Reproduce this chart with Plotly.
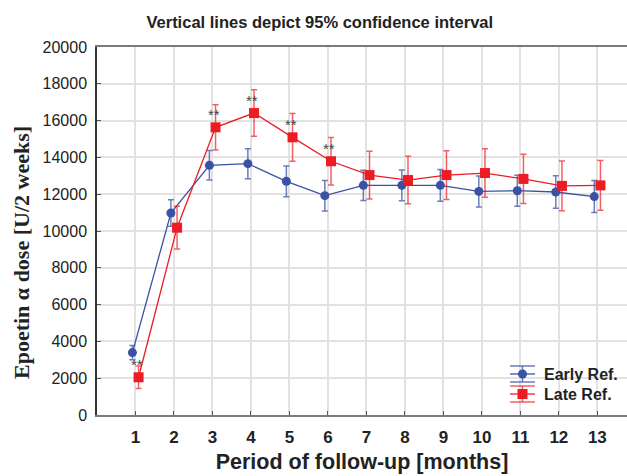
import plotly.graph_objects as go

months = list(range(1, 14))
early_mean = [3390, 10980, 13570, 13660, 12700, 11920, 12480, 12480, 12480, 12150, 12190, 12120, 11870]
early_ci = [390, 725, 800, 815, 835, 830, 825, 830, 860, 840, 840, 880, 870]
late_mean = [2050, 10180, 15635, 16410, 15090, 13790, 13040, 12770, 13040, 13150, 12830, 12450, 12480]
late_ci = [610, 1160, 1230, 1265, 1295, 1285, 1295, 1295, 1325, 1320, 1335, 1350, 1350]
sig_months = [1, 3, 4, 5, 6]
x_ticks = [str(m) for m in months]
y_ticks = list(range(0, 20001, 2000))
y_tick_labels = [str(v) for v in y_ticks]
series_names = ["Early Ref.", "Late Ref."]

OFF = 0.08
BLUE = "#3a52a3"
RED = "#ec1c24"
BLUE_EB = "rgba(58,82,163,0.75)"
RED_EB = "rgba(236,28,36,0.7)"

# plot area geometry (pixels) for the hand-drawn legend
L, T, W, H = 97, 47, 530, 368


def px(x):
    return (x - L) / W


def py(y):
    return (T + H - y) / H


fig = go.Figure()
fig.add_trace(go.Scatter(
    x=[m - OFF for m in months], y=early_mean, name=series_names[0],
    mode="lines+markers",
    line=dict(color=BLUE, width=1.3),
    marker=dict(symbol="circle", size=9, color=BLUE),
    error_y=dict(type="data", array=early_ci, visible=True,
                 color=BLUE_EB, thickness=1.5, width=3),
))
fig.add_trace(go.Scatter(
    x=[m + OFF for m in months], y=late_mean, name=series_names[1],
    mode="lines+markers",
    line=dict(color=RED, width=1.3),
    marker=dict(symbol="square", size=10, color=RED),
    error_y=dict(type="data", array=late_ci, visible=True,
                 color=RED_EB, thickness=1.5, width=3),
))

for m in sig_months:
    i = months.index(m)
    fig.add_annotation(x=m + OFF - 0.05, y=late_mean[i] + 700, text="**",
                       showarrow=False, yshift=0,
                       font=dict(family="Arial, Liberation Sans", size=15, color="#444"))

# legend (hand-drawn to show error-bar style icons)
shapes = []
for k, (cy, col, ebcol, sym) in enumerate([(374, BLUE, BLUE_EB, "circle"), (394, RED, RED_EB, "square")]):
    for dy, c, w in [(0, col, 1.3), (-8, ebcol, 1.5), (8, ebcol, 1.5)]:
        shapes.append(dict(type="line", xref="paper", yref="paper",
                           x0=px(510), x1=px(535), y0=py(cy + dy), y1=py(cy + dy),
                           line=dict(color=c, width=w)))
    shapes.append(dict(type="line", xref="paper", yref="paper",
                       x0=px(522.5), x1=px(522.5), y0=py(cy - 8), y1=py(cy + 8),
                       line=dict(color=ebcol, width=1.5)))
    r = 4.5 if sym == "circle" else 5
    shapes.append(dict(type="circle" if sym == "circle" else "rect", xref="paper", yref="paper",
                       x0=px(522.5 - r), x1=px(522.5 + r), y0=py(cy + r), y1=py(cy - r),
                       fillcolor=col, line=dict(color=col, width=0)))
    fig.add_annotation(xref="paper", yref="paper", x=px(542), y=py(cy),
                       xanchor="left", yanchor="middle", showarrow=False,
                       text=f"<b>{series_names[k]}</b>",
                       font=dict(family="Arial, Liberation Sans", size=16, color="#222"))

fig.add_annotation(xref="paper", yref="paper", x=px(22), y=py(253),
                   xanchor="center", yanchor="middle",
                   text="<b>Epoetin α dose [U/2 weeks]</b>", textangle=-90,
                   showarrow=False,
                   font=dict(family="Liberation Serif, Times New Roman, serif", size=22, color="#222"))

fig.update_layout(
    width=627, height=476,
    margin=dict(l=L, r=0, t=T, b=476 - T - H),
    plot_bgcolor="white", paper_bgcolor="white",
    title=dict(text="<b>Vertical lines depict 95% confidence interval</b>",
               x=0.51, xanchor="center", y=0.954, yanchor="middle",
               font=dict(family="Arial, Liberation Sans", size=16.5, color="#222")),
    showlegend=False,
    shapes=shapes,
    font=dict(family="Arial, Liberation Sans", color="#222"),
)
fig.update_xaxes(
    range=[0, 13.77], tickvals=months, ticktext=[f"<b>{t}</b>" for t in x_ticks],
    showgrid=True, gridcolor="#e2e2e2", gridwidth=1.5,
    showline=True, linecolor="#7a7a7a", linewidth=2, mirror=True,
    ticks="inside", ticklen=4, tickcolor="#555",
    tickfont=dict(size=17, color="#222"), ticklabelstandoff=6,
    title=dict(text="<b>Period of follow-up [months]</b>", standoff=8,
               font=dict(size=21.5, color="#222")),
    zeroline=False,
)
fig.update_yaxes(
    range=[0, 20000], tickvals=y_ticks, ticktext=y_tick_labels,
    showgrid=True, gridcolor="#e2e2e2", gridwidth=1.5,
    showline=True, linecolor="#333", linewidth=1.5,
    ticks="inside", ticklen=4, tickcolor="#555",
    tickfont=dict(size=16, color="#222"), ticklabelstandoff=5,
    zeroline=False,
)

fig.write_html("out.html")
